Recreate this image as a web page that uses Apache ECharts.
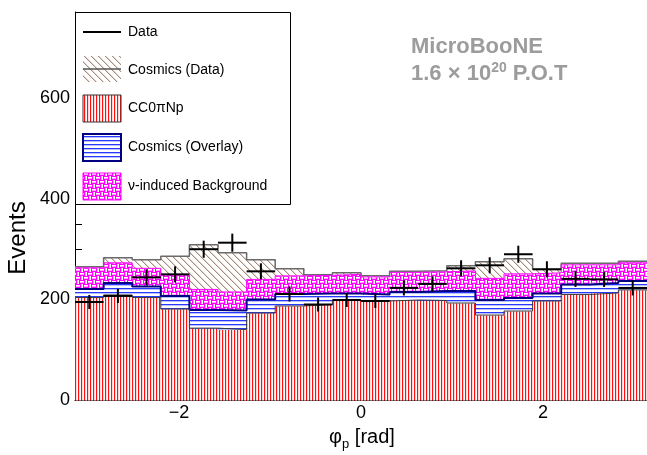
<!DOCTYPE html>
<html><head><meta charset="utf-8">
<script src="https://cdn.jsdelivr.net/npm/echarts@6/dist/echarts.min.js"></script>
<style>html,body{margin:0;padding:0;background:#fff}#c{width:647px;height:455px}</style>
</head><body><div id="c"></div>
<script>
// ---- data ----
const nBins = 20;
const phiMin = -Math.PI, phiMax = Math.PI;
const ccNp           = [204,209,204,181,143,140,173,187,190,198,197,199,198,193,169,177,197,210,213,219];
const cosmicsOverlay = [17,24,22,26,36,38,27,24,22,14,13,16,19,24,30,26,15,20,20,18];
const nuBackground   = [42,40,36,42,41,37,40,36,36,38,35,39,38,40,43,48,41,39,36,36];
const cosmicsData    = [2,10,17,37,89,78,39,14,1,3,2,2,2,10,33,30,7,3,3,3];
const dataCounts     = [195,207,244,250,300,313,256,211,190,199,197,223,231,262,268,290,260,241,240,223];
const dataErrors     = [14,14,16,16,17,18,16,15,14,14,14,15,15,16,16,17,16,16,15,15];
const xTickValues    = [-2,0,2];
const yTickInterval  = 200;
const yMax = 772;

// ---- patterns ----
function makeCanvas(w,h,draw){const c=document.createElement('canvas');c.width=w;c.height=h;const x=c.getContext('2d');draw(x,w,h);return c;}
const redCanvas = makeCanvas(3,1,(x)=>{x.fillStyle='#fff';x.fillRect(0,0,3,1);x.fillStyle='#ff1010';x.fillRect(0,0,1,1);x.fillStyle='#ffd4d4';x.fillRect(1,0,1,1);});
const blueCanvas = makeCanvas(1,4,(x)=>{x.fillStyle='#fff';x.fillRect(0,0,1,4);x.fillStyle='#2838ff';x.fillRect(0,0,1,1);x.fillStyle='#b8c0ff';x.fillRect(0,1,1,1);});
const hatchCanvas = makeCanvas(7,7,(x)=>{x.fillStyle='#fff';x.fillRect(0,0,7,7);x.fillStyle='#a88c7c';for(let i=0;i<7;i++){x.fillRect(i,i,1,1);}x.fillStyle='#e0d4ce';for(let i=0;i<7;i++){x.fillRect((i+1)%7,i,1,1);}});
const magCanvas = makeCanvas(8,8,(x)=>{x.fillStyle='#ff00ff';x.fillRect(0,0,8,8);x.fillStyle='#ffffff';
  x.fillRect(0,1,4,1);x.fillRect(6,0,1,4);x.fillRect(4,5,4,1);x.fillRect(2,4,1,4);
  x.fillStyle='#ffa8ff';x.fillRect(0,2,4,1);x.fillRect(5,0,1,4);x.fillRect(4,6,4,1);x.fillRect(1,4,1,4);});
const pat = c => ({image:c, repeat:'repeat'});
const redPat=pat(redCanvas), bluePat=pat(blueCanvas), hatchPat=pat(hatchCanvas), magPat=pat(magCanvas);

const binW = (phiMax-phiMin)/nBins;
const edges = Array.from({length:nBins+1},(_,i)=>phiMin+i*binW);

const layers = [
  {values:ccNp, fill:redPat, line:'#3a3a3a', lw:1},
  {values:cosmicsOverlay, fill:bluePat, line:'#000080', lw:2},
  {values:nuBackground, fill:magPat, line:'#ff00ff', lw:1},
  {values:cosmicsData, fill:hatchPat, line:'#6a6a6a', lw:1.5}
];
let base = new Array(nBins).fill(0);
const series = [];
const lineSeries = [];
layers.forEach((L,li)=>{
  const rows = [];
  const tops = [];
  for(let i=0;i<nBins;i++){const t=base[i]+L.values[i];rows.push([edges[i],edges[i+1],base[i],t]);tops.push(t);}
  const fill=L.fill;
  series.push({type:'custom',z:2,silent:true,data:rows,encode:{x:[0,1],y:[2,3]},
    renderItem:(params,api)=>{
      const p0=api.coord([api.value(0),api.value(3)]);
      const p1=api.coord([api.value(1),api.value(2)]);
      return {type:'rect',shape:{x:p0[0],y:p0[1],width:p1[0]-p0[0]+0.6,height:p1[1]-p0[1]+0.4},style:{fill:fill,stroke:null}};
    }});
  const ld = tops.map((t,i)=>[edges[i],t]); ld.push([edges[nBins],tops[nBins-1]]);
  lineSeries.unshift({type:'line',step:'end',z:3,silent:true,symbol:'none',data:ld,lineStyle:{color:L.line,width:L.lw}});
  base = tops;
});
const dataRows = dataCounts.map((v,i)=>[(edges[i]+edges[i+1])/2,v,edges[i],edges[i+1],dataErrors[i]]);
const dataSeries = {type:'custom',z:5,silent:true,data:dataRows,encode:{x:0,y:1},
  renderItem:(params,api)=>{
    const l=api.coord([api.value(2),api.value(1)]), r=api.coord([api.value(3),api.value(1)]);
    const lo=api.coord([api.value(0),api.value(1)-api.value(4)]), hi=api.coord([api.value(0),api.value(1)+api.value(4)]);
    return {type:'group',children:[
      {type:'line',shape:{x1:l[0],y1:l[1],x2:r[0],y2:r[1]},style:{stroke:'#000',lineWidth:2}},
      {type:'line',shape:{x1:lo[0],y1:lo[1],x2:hi[0],y2:hi[1]},style:{stroke:'#000',lineWidth:2}}
    ]};
  }};

const FONT = "'Liberation Sans', Arial, Helvetica, sans-serif";
const minus = v => v<0 ? '\u2212'+Math.abs(v) : String(v);

// legend graphics
const legX=83, legW=38, legText=128;
const legendItems = [
  {type:'rect',z:100,shape:{x:75.5,y:12.5,width:215,height:192},style:{fill:'#fff',stroke:'#000',lineWidth:1}},
  {type:'line',z:101,shape:{x1:legX,y1:32,x2:legX+legW,y2:32},style:{stroke:'#000',lineWidth:2}},
  {type:'text',z:101,x:legText,y:32,style:{text:'Data',font:'14px '+FONT,fill:'#000',verticalAlign:'middle'}},
  {type:'rect',z:101,shape:{x:legX,y:56,width:legW,height:26},style:{fill:hatchPat}},
  {type:'line',z:102,shape:{x1:legX,y1:69,x2:legX+legW,y2:69},style:{stroke:'#555',lineWidth:1.5}},
  {type:'text',z:101,x:legText,y:70,style:{text:'Cosmics (Data)',font:'14px '+FONT,fill:'#000',verticalAlign:'middle'}},
  {type:'rect',z:101,shape:{x:legX,y:95,width:legW,height:27},style:{fill:redPat,stroke:'#333',lineWidth:1}},
  {type:'text',z:101,x:legText,y:108,style:{text:'CC0\u03c0Np',font:'14px '+FONT,fill:'#000',verticalAlign:'middle'}},
  {type:'rect',z:101,shape:{x:legX,y:134,width:legW,height:27},style:{fill:bluePat,stroke:'#000080',lineWidth:2}},
  {type:'text',z:101,x:legText,y:147,style:{text:'Cosmics (Overlay)',font:'14px '+FONT,fill:'#000',verticalAlign:'middle'}},
  {type:'rect',z:101,shape:{x:legX,y:173,width:legW,height:27},style:{fill:magPat,stroke:'#ff00ff',lineWidth:1}},
  {type:'text',z:101,x:legText,y:186,style:{text:'\u03bd-induced Background',font:'14px '+FONT,fill:'#000',verticalAlign:'middle'}},
  {type:'text',z:101,x:411,y:47,style:{text:'MicroBooNE',font:'bold 22px '+FONT,fill:'#9c9c9c',verticalAlign:'middle'}},
  {type:'text',z:101,x:411,y:74,style:{text:'1.6 \u00d7 10{s|20} P.O.T',font:'bold 22px '+FONT,fill:'#9c9c9c',verticalAlign:'middle',
     rich:{s:{font:'bold 14px '+FONT,fill:'#9c9c9c',verticalAlign:'bottom',padding:[0,0,12,0]}}}},
  {type:'text',z:101,x:18,y:238,rotation:Math.PI/2,style:{text:'Events',font:'24px '+FONT,fill:'#000',align:'center',verticalAlign:'middle'}},
  {type:'text',z:101,x:362,y:437,style:{text:'\u03c6{s|p} [rad]',font:'20px '+FONT,fill:'#000',align:'center',verticalAlign:'middle',
     rich:{s:{font:'13px '+FONT,fill:'#000',verticalAlign:'top',padding:[14,0,0,0]}}}}
];

const chart = echarts.init(document.getElementById('c'),null,{renderer:'canvas'});
chart.setOption({
  animation:false,
  backgroundColor:'#fff',
  grid:{left:75,right:0,top:12,bottom:55,containLabel:false},
  xAxis:{type:'value',min:phiMin,max:phiMax,
    axisLine:{show:true,onZero:false,lineStyle:{color:'#000',width:1}},
    axisTick:{show:false},splitLine:{show:false},
    axisLabel:{customValues:xTickValues,formatter:minus,color:'#000',fontSize:18,fontFamily:FONT,margin:4}},
  yAxis:{type:'value',min:0,max:yMax,interval:yTickInterval,
    axisLine:{show:true,onZero:false,lineStyle:{color:'#000',width:1}},
    axisTick:{show:true,inside:true,length:14,lineStyle:{color:'#000'}},
    minorTick:{show:true,splitNumber:4,length:7,lineStyle:{color:'#000'}},
    splitLine:{show:false},
    axisLabel:{color:'#000',fontSize:18,fontFamily:FONT,margin:5,showMaxLabel:false}},
  series:[...series,...lineSeries,dataSeries],
  graphic:{elements:legendItems}
});
</script></body></html>
